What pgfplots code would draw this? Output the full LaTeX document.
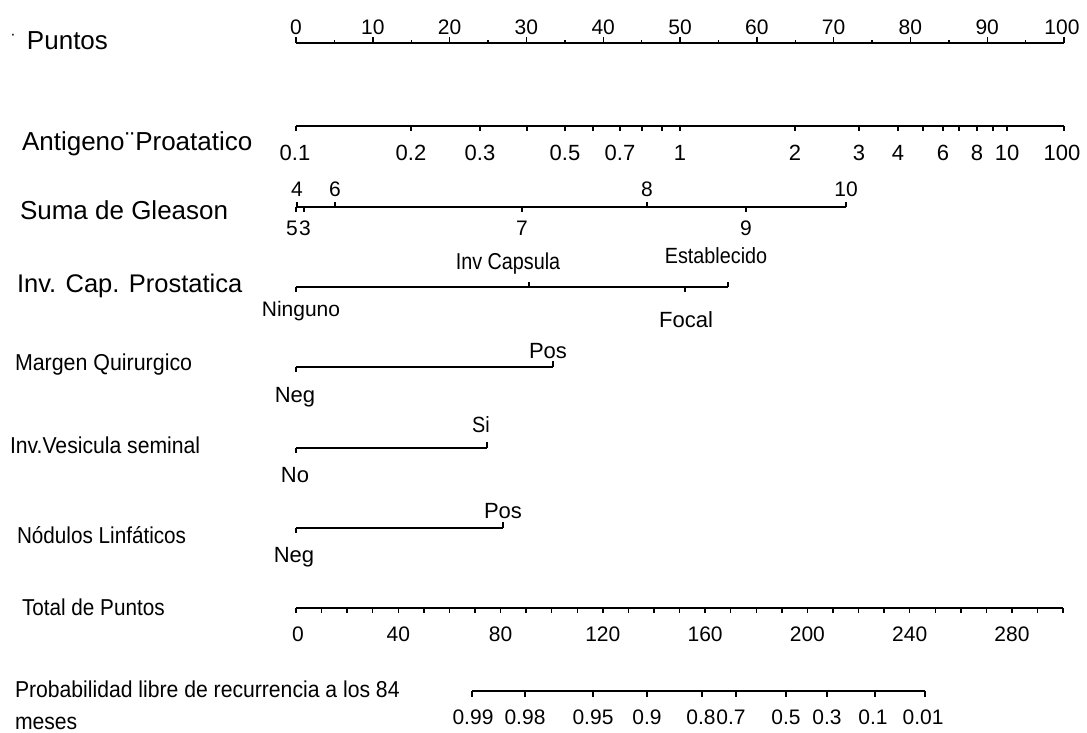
\documentclass[border=0pt]{standalone}
\usepackage{fontspec}
\setmainfont{Liberation Sans}
\usepackage{graphicx}
\usepackage{pgfplots}
\pgfplotsset{compat=1.18}
\newcommand{\fs}[1]{\fontsize{#1}{#1}\selectfont}
\newcommand{\cond}[2]{\scalebox{#1}[1]{#2}}
\pgfplotsset{
  tk/.style={only marks, mark=|, mark size=#1, mark options={line width=1.4pt, draw=black}},
  ln/.style={black, line width=1.5pt, mark=none},
}
\tikzset{
  lb/.style={anchor=base west, inner sep=0pt, outer sep=0pt},
  nb/.style={anchor=base, inner sep=0pt, outer sep=0pt},
  nc/.style={anchor=center, inner sep=0pt, outer sep=0pt},
}
\begin{document}
\begin{tikzpicture}
\begin{axis}[
  width=1087pt, height=733pt, scale only axis,
  xmin=0, xmax=1087, ymin=0, ymax=733, y dir=reverse,
  hide axis, clip=false,
]
\path (rel axis cs:0,0) rectangle (rel axis cs:1,1);
% ---------------- Puntos ----------------
\addplot[ln] coordinates {(296,43) (1064,43)};
\addplot[tk=3] coordinates {(296,40)(372.8,40)(449.6,40)(526.4,40)(603.2,40)(680,40)(756.8,40)(833.6,40)(910.4,40)(987.2,40)(1064,40)};
\addplot[tk=1.5] coordinates {(334.4,41.5)(411.2,41.5)(488,41.5)(564.8,41.5)(641.6,41.5)(718.4,41.5)(795.2,41.5)(872,41.5)(948.8,41.5)(1025.6,41.5)};
\node[lb,font=\fs{26}] at (axis cs:27,50) {Puntos};
\node[nc,font=\fs{16}] at (axis cs:13,37) {·};
\node[nc,font=\fs{21}] at (axis cs:296,27.5) {0};
\node[nc,font=\fs{21}] at (axis cs:372.8,27.5) {10};
\node[nc,font=\fs{21}] at (axis cs:449.6,27.5) {20};
\node[nc,font=\fs{21}] at (axis cs:526.4,27.5) {30};
\node[nc,font=\fs{21}] at (axis cs:603.2,27.5) {40};
\node[nc,font=\fs{21}] at (axis cs:680,27.5) {50};
\node[nc,font=\fs{21}] at (axis cs:756.8,27.5) {60};
\node[nc,font=\fs{21}] at (axis cs:833.6,27.5) {70};
\node[nc,font=\fs{21}] at (axis cs:910.4,27.5) {80};
\node[nc,font=\fs{21}] at (axis cs:987.2,27.5) {90};
\node[nc,font=\fs{21}] at (axis cs:1062,27.5) {100};
% ---------------- Antigeno ----------------
\addplot[ln] coordinates {(296,126) (1064,126)};
\addplot[tk=2.5] coordinates {(296,128.5)(411,128.5)(480,128.5)(527,128.5)(565,128.5)(593,128.5)(620,128.5)(642,128.5)(662,128.5)(680,128.5)(795,128.5)(859,128.5)(898,128.5)(923,128.5)(943,128.5)(959,128.5)(977,128.5)(993,128.5)(1007,128.5)(1064,128.5)};
\node[lb,font=\fs{26}] at (axis cs:22,150) {Antigeno\kern1pt¨\kern1ptProatatico};
\node[nc,font=\fs{22}] at (axis cs:295,153) {0.1};
\node[nc,font=\fs{22}] at (axis cs:411,153) {0.2};
\node[nc,font=\fs{22}] at (axis cs:480,153) {0.3};
\node[nc,font=\fs{22}] at (axis cs:565,153) {0.5};
\node[nc,font=\fs{22}] at (axis cs:620,153) {0.7};
\node[nc,font=\fs{22}] at (axis cs:680,153) {1};
\node[nc,font=\fs{22}] at (axis cs:795,153) {2};
\node[nc,font=\fs{22}] at (axis cs:859,153) {3};
\node[nc,font=\fs{22}] at (axis cs:898,153) {4};
\node[nc,font=\fs{22}] at (axis cs:943,153) {6};
\node[nc,font=\fs{22}] at (axis cs:977,153) {8};
\node[nc,font=\fs{22}] at (axis cs:1007,153) {10};
\node[nc,font=\fs{22}] at (axis cs:1062,153) {100};
% ---------------- Gleason ----------------
\addplot[ln] coordinates {(296,207) (846,207)};
\addplot[tk=2.5] coordinates {(297,204.5)(335,204.5)(647,204.5)(846,204.5)};
\addplot[tk=2.5] coordinates {(296,209.5)(304,209.5)(522,209.5)(746,209.5)};
\node[lb,font=\fs{26}] at (axis cs:20,219) {Suma de Gleason};
\node[nc,font=\fs{21}] at (axis cs:297,189) {4};
\node[nc,font=\fs{21}] at (axis cs:335,189) {6};
\node[nc,font=\fs{21}] at (axis cs:647,189) {8};
\node[nc,font=\fs{21}] at (axis cs:846,189) {10};
\node[nc,font=\fs{21}] at (axis cs:292,228) {5};
\node[nc,font=\fs{21}] at (axis cs:305,228) {3};
\node[nc,font=\fs{21}] at (axis cs:522,228) {7};
\node[nc,font=\fs{21}] at (axis cs:746,228) {9};
% ---------------- Inv Cap ----------------
\addplot[ln] coordinates {(296,287) (728,287)};
\addplot[tk=2.5] coordinates {(296,289.5)(685,289.5)};
\addplot[tk=2.5] coordinates {(529,284.5)(728,284.5)};
\node[lb,font=\fs{25.5}] at (axis cs:17,292) {Inv. Cap. Prostatica};
\node[nb,font=\fs{23}] at (axis cs:508,269) {\cond{0.86}{Inv Capsula}};
\node[nb,font=\fs{22}] at (axis cs:716,263) {\cond{0.9}{Establecido}};
\node[nb,font=\fs{21}] at (axis cs:301,316) {Ninguno};
\node[nb,font=\fs{22}] at (axis cs:686,327) {Focal};
% ---------------- Margen ----------------
\addplot[ln] coordinates {(296,367) (553,367)};
\addplot[tk=2.5] coordinates {(296,369.5)};
\addplot[tk=3] coordinates {(553,364)};
\node[lb,font=\fs{23}] at (axis cs:15,370) {\cond{0.93}{Margen Quirurgico}};
\node[nb,font=\fs{22}] at (axis cs:548,358) {Pos};
\node[nb,font=\fs{22}] at (axis cs:295,402) {Neg};
% ---------------- Vesicula ----------------
\addplot[ln] coordinates {(296,448) (487,448)};
\addplot[tk=2.5] coordinates {(296,450.5)};
\addplot[tk=3] coordinates {(487,445)};
\node[lb,font=\fs{23}] at (axis cs:10,453) {\cond{0.92}{Inv.Vesicula seminal}};
\node[nb,font=\fs{22}] at (axis cs:481,432) {\cond{0.9}{Si}};
\node[nb,font=\fs{22}] at (axis cs:295,482) {No};
% ---------------- Nodulos ----------------
\addplot[ln] coordinates {(296,528) (503,528)};
\addplot[tk=2.5] coordinates {(296,530.5)};
\addplot[tk=3] coordinates {(503,525)};
\node[lb,font=\fs{23}] at (axis cs:17,543) {\cond{0.9}{Nódulos Linfáticos}};
\node[nb,font=\fs{22}] at (axis cs:503,518) {Pos};
\node[nb,font=\fs{22}] at (axis cs:294,562) {Neg};
% ---------------- Total de Puntos ----------------
\addplot[ln] coordinates {(296,608) (1063,608)};
\addplot[tk=2.5] coordinates {(296,610.5)(321.6,610.5)(347.1,610.5)(372.7,610.5)(398.3,610.5)(423.9,610.5)(449.4,610.5)(475.0,610.5)(500.6,610.5)(526.1,610.5)(551.7,610.5)(577.3,610.5)(602.8,610.5)(628.4,610.5)(654.0,610.5)(679.6,610.5)(705.1,610.5)(730.7,610.5)(756.3,610.5)(781.8,610.5)(807.4,610.5)(833.0,610.5)(858.5,610.5)(884.1,610.5)(909.7,610.5)(935.3,610.5)(960.8,610.5)(986.4,610.5)(1012.0,610.5)(1037.5,610.5)(1063.1,610.5)};
\node[lb,font=\fs{23}] at (axis cs:22,615) {\cond{0.9}{Total de Puntos}};
\node[nc,font=\fs{21}] at (axis cs:298,634) {0};
\node[nc,font=\fs{21}] at (axis cs:398.3,634) {40};
\node[nc,font=\fs{21}] at (axis cs:500.6,634) {80};
\node[nc,font=\fs{21}] at (axis cs:602.8,634) {120};
\node[nc,font=\fs{21}] at (axis cs:705.1,634) {160};
\node[nc,font=\fs{21}] at (axis cs:807.4,634) {200};
\node[nc,font=\fs{21}] at (axis cs:909.7,634) {240};
\node[nc,font=\fs{21}] at (axis cs:1012,634) {280};
% ---------------- Probabilidad ----------------
\addplot[ln] coordinates {(472,691) (925,691)};
\addplot[tk=3] coordinates {(472,694)(525,694)(593,694)(647,694)(702,694)(736,694)(786,694)(827,694)(875,694)(925,694)};
\node[lb,font=\fs{23}] at (axis cs:15,697) {\cond{0.92}{Probabilidad libre de recurrencia a los 84}};
\node[lb,font=\fs{23}] at (axis cs:15,729) {\cond{0.92}{meses}};
\node[nc,font=\fs{21}] at (axis cs:473,717) {0.99};
\node[nc,font=\fs{21}] at (axis cs:525,717) {0.98};
\node[nc,font=\fs{21}] at (axis cs:593,717) {0.95};
\node[nc,font=\fs{21}] at (axis cs:647,717) {0.9};
\node[nc,font=\fs{21}] at (axis cs:701,717) {0.8};
\node[nc,font=\fs{21}] at (axis cs:731,717) {0.7};
\node[nc,font=\fs{21}] at (axis cs:786,717) {0.5};
\node[nc,font=\fs{21}] at (axis cs:827,717) {0.3};
\node[nc,font=\fs{21}] at (axis cs:873,717) {0.1};
\node[nc,font=\fs{21}] at (axis cs:923,717) {0.01};
\end{axis}
\end{tikzpicture}
\end{document}
